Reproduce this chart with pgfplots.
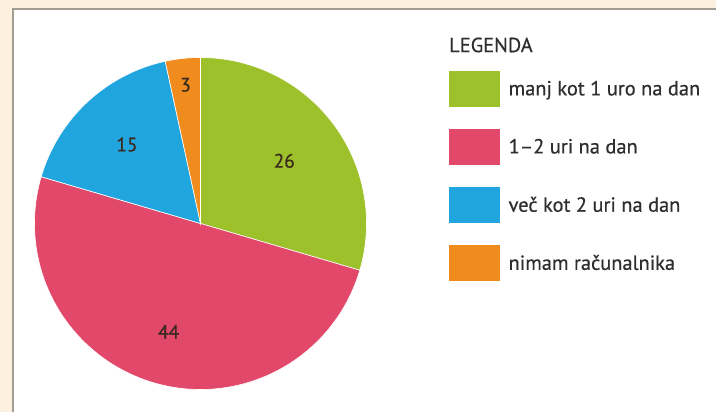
\documentclass[border=0pt]{standalone}
\usepackage{pgfplots}
\pgfplotsset{compat=1.18}
\usepackage{pgfplotstable}
\usepackage{fontspec}
\setmainfont{PT Sans}[FakeBold=0.5]
\definecolor{cgreen}{HTML}{9CC12A}
\definecolor{cpink}{HTML}{E2486A}
\definecolor{cblue}{HTML}{21A5DE}
\definecolor{corange}{HTML}{F08C1E}
\definecolor{cream}{HTML}{FDF0DE}
\definecolor{framec}{HTML}{A39C92}
\definecolor{txt}{HTML}{2E2E2E}
\definecolor{numtxt}{HTML}{3A2A20}

\pgfplotstableread{
idx value
0 26
1 44
2 15
3 3
}\piedata
\pgfplotstablegetelem{0}{value}\of\piedata \edef\va{\pgfplotsretval}
\pgfplotstablegetelem{1}{value}\of\piedata \edef\vb{\pgfplotsretval}
\pgfplotstablegetelem{2}{value}\of\piedata \edef\vc{\pgfplotsretval}
\pgfplotstablegetelem{3}{value}\of\piedata \edef\vd{\pgfplotsretval}
\pgfmathsetmacro\tot{\va+\vb+\vc+\vd}
\pgfmathsetmacro\aA{90}
\pgfmathsetmacro\aB{\aA-360*\va/\tot}
\pgfmathsetmacro\aC{\aB-360*\vb/\tot}
\pgfmathsetmacro\aD{\aC-360*\vc/\tot}
\pgfmathsetmacro\aE{\aD-360*\vd/\tot}
\pgfmathsetmacro\mA{(\aA+\aB)/2}
\pgfmathsetmacro\mB{(\aB+\aC)/2}
\pgfmathsetmacro\mC{(\aC+\aD)/2}
\pgfmathsetmacro\mD{(\aD+\aE)/2}

\begin{document}
\begin{tikzpicture}
\useasboundingbox (0bp,0bp) rectangle (716bp,412bp);
\fill[cream] (0bp,0bp) rectangle (716bp,412bp);
\fill[white] (12.5bp,0bp) rectangle (716bp,403bp);
\draw[framec, line width=2bp] (12.5bp,-2bp) |- (718bp,403bp);
\begin{axis}[
  at={(200.5bp,188.5bp)}, anchor=center,
  width=332bp, height=332bp, scale only axis,
  xmin=-1, xmax=1, ymin=-1, ymax=1,
  hide axis, clip=false,
  area legend,
  legend image code/.code={\fill[#1] (0bp,-18.5bp) rectangle (52bp,18.5bp);},
  legend style={
    draw=none, fill=none, inner sep=0pt, outer sep=0pt,
    at={(axis description cs:1.2455,0.9623)}, anchor=north west,
    row sep=20.5bp, column sep=8bp,
    font=\fontsize{20.5}{20.5}\selectfont, text=txt,
    nodes={inner sep=0pt, anchor=west},
  },
]
\addplot[fill=cgreen, draw=white, line width=0.6bp, domain=\aB:\aA, samples=90, variable=\t]
  ({cos(t)},{sin(t)}) -- (axis cs:0,0) -- cycle;
\addlegendentry{manj kot 1 uro na dan}
\addplot[fill=cpink, draw=white, line width=0.6bp, domain=\aC:\aB, samples=120, variable=\t]
  ({cos(t)},{sin(t)}) -- (axis cs:0,0) -- cycle;
\addlegendentry{1--2 uri na dan}
\addplot[fill=cblue, draw=white, line width=0.6bp, domain=\aD:\aC, samples=60, variable=\t]
  ({cos(t)},{sin(t)}) -- (axis cs:0,0) -- cycle;
\addlegendentry{več kot 2 uri na dan}
\addplot[fill=corange, draw=white, line width=0.6bp, domain=\aE:\aD, samples=20, variable=\t]
  ({cos(t)},{sin(t)}) -- (axis cs:0,0) -- cycle;
\addlegendentry{nimam računalnika}
\begin{scope}[every node/.style={font=\fontsize{19.5}{19.5}\selectfont, text=numtxt}]
\node at (axis cs:{0.63*cos(\mA)},{0.63*sin(\mA)}) {\va};
\node at (axis cs:{0.68*cos(\mB)},{0.68*sin(\mB)}) {\vb};
\node at (axis cs:{0.65*cos(\mC)},{0.65*sin(\mC)}) {\vc};
\node at (axis cs:{0.84*cos(\mD)},{0.84*sin(\mD)}) {\vd};
\end{scope}
\end{axis}
\node[anchor=west, inner sep=0pt, font=\fontsize{20.5}{20.5}\selectfont, text=txt] at (449bp,367bp) {LEGENDA};
\end{tikzpicture}
\end{document}
